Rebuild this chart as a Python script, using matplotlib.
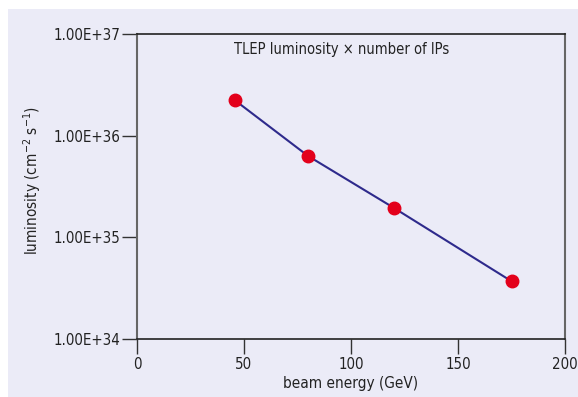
import matplotlib
matplotlib.use("Agg")
import matplotlib.pyplot as plt
from matplotlib.ticker import FixedLocator, FuncFormatter, NullLocator

energy = [45.6, 80, 120, 175]
lumi = [2.24e36, 6.3e35, 1.95e35, 3.7e34]
xticks = [0, 50, 100, 150, 200]
yticks = [1e34, 1e35, 1e36, 1e37]
ytick_labels = ["1.00E+34", "1.00E+35", "1.00E+36", "1.00E+37"]

plt.rcParams['font.family'] = ["DejaVu Sans"]
plt.rcParams['font.stretch'] = "condensed"
plt.rcParams['mathtext.fontset'] = "custom"
plt.rcParams['mathtext.rm'] = "DejaVu Sans:stretch=condensed"

bg = "#ebebf7"
fig = plt.figure(figsize=(5.78, 3.97), dpi=100)
fig.patch.set_facecolor("white")
fig.patches.append(plt.Rectangle((8/578, 0), 570/578, 388/397, transform=fig.transFigure,
                                 facecolor=bg, edgecolor="none", zorder=-10))
ax = fig.add_axes([137/578, 1 - 339/397, (565-137)/578, (339-34)/397])
ax.set_facecolor(bg)
ax.plot(energy, lumi, color="#2e2a8c", lw=1.5, marker="o", ms=9,
        mfc="#e3001b", mec="#e3001b", zorder=3)
ax.set_yscale("log")
ax.set_xlim(0, 200)
ax.set_ylim(1e34, 1e37)
ax.xaxis.set_major_locator(FixedLocator(xticks))
ax.yaxis.set_major_locator(FixedLocator(yticks))
ax.yaxis.set_minor_locator(NullLocator())
ax.yaxis.set_major_formatter(FuncFormatter(lambda v, p: ytick_labels[yticks.index(min(yticks, key=lambda t: abs(t - v)))]))
ax.tick_params(axis="both", direction="out", length=11, width=1, colors="#333333",
               labelsize=10.8, labelcolor="#222222")
ax.tick_params(axis="y", pad=1)
ax.tick_params(axis="x", pad=2)
for s in ["left", "right"]:
    ax.spines[s].set_color("#666666")
    ax.spines[s].set_linewidth(1.5)
for s in ["top", "bottom"]:
    ax.spines[s].set_color("#222222")
    ax.spines[s].set_linewidth(1.2)
ax.set_xlabel("beam energy (GeV)", fontsize=11, color="#222222", labelpad=3)
ax.set_ylabel("luminosity (cm$^{-2}$ s$^{-1}$)", fontsize=11, color="#222222")
ax.yaxis.set_label_coords(-0.22, 0.52)
ax.text(0.477, 0.975, "TLEP luminosity × number of IPs", transform=ax.transAxes,
        ha="center", va="top", fontsize=10.5, color="#222222")
fig.savefig("out.png", dpi=100, facecolor="white")
